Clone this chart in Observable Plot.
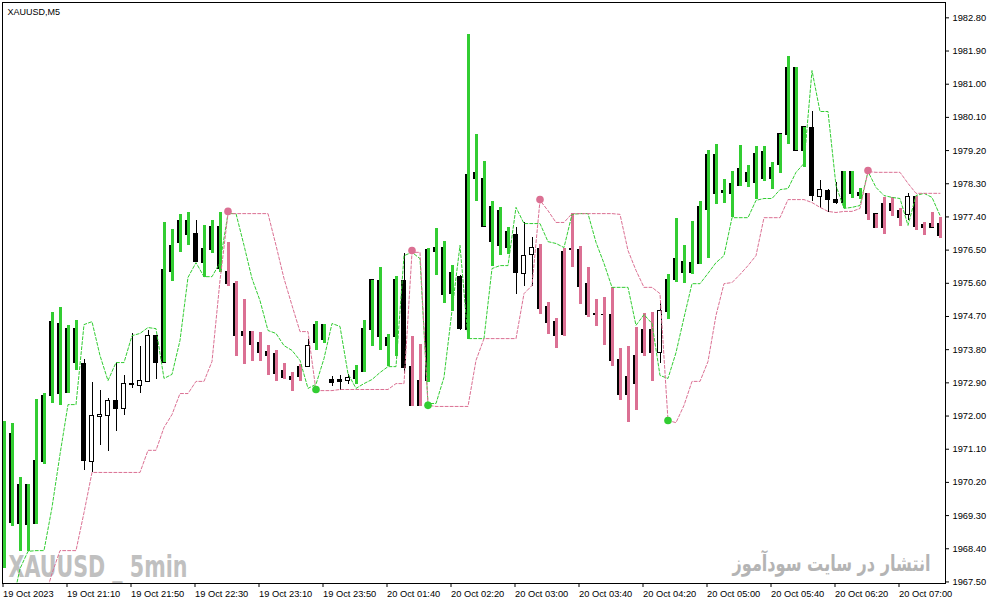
<!DOCTYPE html>
<html>
<head>
<meta charset="utf-8">
<script src="https://cdn.jsdelivr.net/npm/d3@7"></script>
<script src="https://cdn.jsdelivr.net/npm/@observablehq/plot@0.6"></script>
<style>
  html, body { margin: 0; padding: 0; background: #fff; }
  #chart svg { display: block; }
</style>
</head>
<body>
<div id="chart"></div>
<script>
// ---- Data (XAUUSD M5) ----
const openP = [
1967.87,1969.10,1969.08,1969.05,1969.08,1970.75,1972.53,1972.60,1972.62,1973.43,
1973.40,1970.75,1971.97,1972.01,1972.42,1972.20,1972.87,1972.81,1972.93,1974.18,
1973.45,1975.92,1976.68,1976.92,1976.95,1976.16,1976.49,1976.00,1975.92,1975.57,
1974.29,1974.29,1973.97,1973.75,1973.67,1973.21,1973.07,1973.34,1973.34,1973.97,
1974.05,1972.97,1972.97,1972.95,1973.00,1973.19,1974.32,1974.14,1973.89,1974.14,
1975.65,1973.32,1972.94,1972.96,1976.44,1975.27,1975.30,1975.78,1974.32,1978.44,
1977.14,1976.73,1976.60,1976.57,1976.92,1975.85,1976.36,1976.54,1974.97,1974.54,
1974.21,1976.52,1976.49,1975.57,1974.78,1974.75,1974.73,1973.53,1973.07,1972.88,
1974.32,1973.72,1973.70,1974.81,1975.68,1975.89,1975.87,1976.11,1977.60,1978.01,
1978.04,1978.01,1978.25,1978.36,1978.33,1978.44,1978.42,1978.82,1979.61,1981.45,
1979.20,1979.80,1977.95,1978.09,1977.87,1977.79,1978.01,1977.98,1978.01,1977.47,
1977.11,1977.74,1977.55,1977.44,1977.95,1977.17,1977.11,1977.22
];
const highP = [
1971.85,1971.80,1970.33,1970.14,1972.45,1972.60,1974.81,1974.94,1974.46,1974.59,
1973.53,1972.91,1972.69,1972.48,1973.45,1973.10,1974.23,1973.89,1974.32,1974.18,
1977.25,1977.06,1977.47,1977.52,1977.30,1977.17,1977.30,1977.52,1976.71,1975.65,
1975.16,1974.29,1974.27,1973.91,1973.78,1973.42,1973.18,1973.40,1974.08,1974.56,
1974.48,1973.07,1973.09,1973.13,1973.37,1974.59,1975.68,1976.03,1974.21,1975.78,
1976.41,1974.16,1973.94,1976.54,1977.09,1976.73,1976.08,1975.82,1982.35,1979.64,
1978.90,1977.82,1977.66,1977.11,1977.11,1977.25,1976.84,1976.65,1975.08,1974.65,
1976.54,1977.49,1976.60,1976.03,1975.16,1975.22,1975.49,1973.83,1973.89,1974.40,
1974.78,1974.81,1975.08,1975.84,1977.36,1976.63,1977.28,1977.82,1979.20,1979.36,
1978.42,1978.63,1979.34,1978.80,1979.31,1979.31,1978.88,1979.64,1981.75,1981.45,
1979.83,1980.26,1978.39,1978.14,1978.33,1978.63,1978.63,1978.17,1978.04,1977.47,
1977.93,1977.93,1977.63,1978.04,1977.95,1977.25,1977.52,1977.38
];
const lowP = [
1967.86,1969.01,1968.33,1968.33,1969.07,1970.68,1972.33,1972.29,1972.61,1973.24,
1970.52,1970.47,1971.20,1971.04,1971.59,1972.01,1972.75,1972.62,1972.93,1973.00,
1973.45,1975.65,1976.44,1976.63,1976.19,1975.76,1976.41,1975.89,1975.51,1973.61,
1973.40,1973.48,1973.48,1973.10,1972.94,1972.99,1972.67,1972.94,1973.34,1973.78,
1973.97,1972.80,1972.69,1972.86,1972.86,1973.19,1973.89,1973.78,1973.35,1973.61,
1973.15,1972.27,1972.27,1972.91,1975.81,1975.05,1974.84,1974.33,1974.08,1977.83,
1977.14,1976.06,1976.35,1976.38,1975.30,1975.51,1975.51,1974.75,1974.21,1973.83,
1974.16,1976.03,1975.03,1974.67,1974.43,1973.91,1973.34,1972.42,1971.82,1972.15,
1973.61,1972.94,1973.42,1974.62,1975.62,1975.59,1975.84,1976.11,1976.27,1977.74,
1977.76,1977.38,1978.23,1978.20,1977.87,1978.36,1978.14,1978.58,1979.36,1979.20,
1978.74,1977.82,1977.63,1977.52,1977.74,1977.63,1977.90,1977.87,1977.30,1977.09,
1976.92,1977.41,1977.14,1977.30,1977.03,1976.90,1977.11,1976.82
];
const closeP = [
1971.47,1971.52,1970.12,1970.12,1970.79,1972.53,1974.54,1974.49,1974.35,1974.35,
1970.77,1971.99,1972.04,1972.42,1972.19,1972.87,1972.84,1972.94,1974.18,1973.43,
1975.97,1976.60,1977.28,1977.30,1976.19,1976.54,1977.14,1977.14,1975.57,1974.18,
1974.18,1973.94,1973.70,1973.64,1973.15,1973.02,1972.99,1973.05,1973.89,1974.48,
1974.46,1972.90,1972.91,1973.02,1973.21,1974.37,1975.68,1975.65,1974.13,1975.68,
1973.30,1972.28,1972.28,1976.49,1976.57,1976.57,1975.87,1974.35,1978.55,1978.58,
1978.42,1977.66,1977.55,1976.98,1975.87,1976.33,1976.57,1974.89,1974.51,1974.18,
1976.44,1976.49,1975.49,1974.75,1974.75,1974.73,1973.48,1972.56,1972.58,1973.64,
1973.72,1974.32,1974.86,1975.68,1976.25,1976.19,1976.14,1977.66,1979.09,1979.09,
1978.09,1978.28,1978.69,1978.58,1979.12,1979.17,1978.74,1979.64,1981.43,1979.20,
1979.83,1977.98,1978.14,1977.87,1977.79,1978.63,1978.63,1978.04,1977.47,1977.11,
1977.74,1977.55,1977.38,1977.95,1977.14,1977.11,1977.22,1976.87
];
// 1 = up (green bar), -1 = down (pink bar), 0 = plain candle
const trend = [
1,1,1,1,1,1,1,1,1,1,
0,0,0,0,0,0,0,0,0,0,
1,1,1,1,0,1,1,1,-1,-1,
-1,-1,-1,-1,-1,-1,-1,-1,0,1,
1,0,0,0,1,1,1,1,1,1,
0,-1,-1,1,1,1,1,0,1,1,
1,1,1,1,0,0,0,-1,-1,-1,
-1,-1,-1,-1,-1,-1,-1,-1,-1,-1,
-1,-1,0,1,1,1,1,1,1,1,
1,1,1,1,1,1,1,1,1,1,
1,0,0,0,0,1,1,1,-1,-1,
-1,-1,-1,0,-1,-1,-1,-1
];
const greenLine = [
1965.91,1966.86,1967.86,1968.33,1968.35,1968.35,1969.52,1970.96,1972.31,1972.31,
1974.48,1974.56,1973.64,1972.96,1973.45,1973.45,1974.18,1974.24,1974.40,1974.37,
1973.02,1973.13,1974.05,1975.76,1976.16,1975.78,1975.78,1976.16,1977.49,1977.49,
1976.63,1975.73,1975.13,1974.32,1974.24,1973.91,1973.78,1973.51,1972.75,1972.86,
1973.56,1974.51,1974.43,1973.15,1972.75,1972.88,1972.99,1973.18,1973.34,1973.34,
1976.35,1976.44,1976.27,1972.34,1972.34,1973.05,1974.86,1976.63,1974.10,1974.10,
1974.10,1976.00,1976.08,1976.08,1977.66,1977.22,1977.22,1977.22,1976.73,1976.68,
1976.57,1977.47,1977.49,1977.49,1976.71,1976.14,1975.49,1975.49,1975.49,1974.46,
1974.75,1974.51,1973.10,1973.02,1973.72,1974.67,1975.59,1975.59,1975.87,1976.16,
1976.35,1977.38,1977.38,1977.38,1977.85,1977.90,1977.90,1978.14,1978.17,1978.61,
1978.85,1981.37,1980.26,1980.26,1978.25,1977.63,1977.66,1977.71,1978.63,1978.20,
1977.98,1977.93,1977.90,1977.17,1977.98,1978.04,1977.93,1977.44
];
const pinkLine = [
1965.37,1965.51,1965.64,1965.91,1966.32,1967.00,1967.73,1968.35,1968.35,1968.35,
1969.38,1970.47,1970.47,1970.47,1970.47,1970.47,1970.47,1970.47,1971.07,1971.07,
1971.69,1972.04,1972.61,1972.61,1972.94,1972.94,1973.48,1975.68,1977.49,1977.49,
1977.49,1977.49,1977.49,1977.49,1976.63,1975.73,1975.00,1974.29,1974.29,1972.69,
1972.69,1972.69,1972.72,1972.72,1972.72,1972.72,1972.72,1972.72,1972.72,1972.88,
1972.88,1976.44,1976.44,1972.29,1972.26,1972.26,1972.26,1972.26,1972.26,1973.51,
1974.10,1974.10,1974.10,1974.10,1974.10,1975.32,1975.54,1977.85,1977.57,1977.25,
1977.25,1977.49,1977.49,1977.49,1977.49,1977.49,1977.49,1977.47,1976.49,1975.95,
1975.49,1975.49,1975.32,1971.88,1971.82,1972.29,1972.94,1972.94,1973.48,1974.73,
1975.59,1975.62,1975.84,1976.08,1976.35,1977.38,1977.38,1977.38,1977.87,1977.87,
1977.87,1977.79,1977.66,1977.55,1977.52,1977.55,1977.55,1977.63,1978.63,1978.61,
1978.61,1978.61,1978.61,1978.31,1978.04,1978.04,1978.04,1978.04
];
// signal dots
const sigBar   = [28, 39, 51, 53, 67, 83, 108];
const sigPrice = [1977.55, 1972.72, 1976.49, 1972.29, 1977.87, 1971.88, 1978.66];
const sigType  = [-1, 1, -1, 1, -1, 1, -1];

// axis labels
const tickBars = [0, 8, 16, 24, 32, 40, 48, 56, 64, 72, 80, 88, 96, 104, 112];
const tickLabels = ["19 Oct 2023","19 Oct 21:10","19 Oct 21:50","19 Oct 22:30","19 Oct 23:10",
  "19 Oct 23:50","20 Oct 01:40","20 Oct 02:20","20 Oct 03:00","20 Oct 03:40","20 Oct 04:20",
  "20 Oct 05:00","20 Oct 05:40","20 Oct 06:20","20 Oct 07:00"];
const priceTicks = [1982.80,1981.90,1981.00,1980.10,1979.20,1978.30,1977.40,1976.50,1975.60,
  1974.70,1973.80,1972.90,1972.00,1971.10,1970.20,1969.30,1968.40,1967.50];

// ---- build table ----
const GREEN = "#32CD32", PINK = "#DB7093";
const WM_LATIN = "XAUUSD _ 5min";
const WM_FA = "انتشار در سایت سودآموز";
const bars = openP.map((o, i) => ({
  i, open: o, high: highP[i], low: lowP[i], close: closeP[i], trend: trend[i],
  up: greenLine[i], dn: pinkLine[i]
}));
const whiteBodies = bars.filter(d => d.trend === 0 && d.close >= d.open);
const upBars = bars.filter(d => d.trend === 1);
const dnBars = bars.filter(d => d.trend === -1);
const signals = sigBar.map((b, k) => ({i: b, price: sigPrice[k], type: sigType[k]}));

const chart = Plot.plot({
  width: 991,
  height: 605,
  marginLeft: 2,
  marginRight: 46,
  marginTop: 2,
  marginBottom: 22,
  style: {fontFamily: "'Liberation Sans', Arial, sans-serif", fontSize: "9.3px", color: "black", background: "white"},
  x: {type: "linear", domain: [-0.1875, 117.6875]},
  y: {domain: [1967.458, 1983.216]},
  marks: [
    Plot.axisX({ticks: tickBars, tickFormat: d => tickLabels[tickBars.indexOf(d)], tickSize: 4, tickPadding: 3,
      textAnchor: "start", dx: -1, label: null, fill: "black"}),
    Plot.axisY({anchor: "right", ticks: priceTicks, tickFormat: d => d.toFixed(2), tickSize: 3, tickPadding: 4,
      label: null, fill: "black"}),
    // watermarks (behind the price marks)
    Plot.text([WM_LATIN], {text: d => d, frameAnchor: "bottom-left", dx: 6, dy: -7, textAnchor: "start",
      lineAnchor: "bottom", fontSize: 30, fontWeight: 900, fill: "#c0c0c0",
      fontFamily: "'DejaVu Sans Condensed', 'DejaVu Sans', sans-serif"}),
    Plot.text([WM_FA], {text: d => d, frameAnchor: "bottom-right", dx: -15, dy: -13,
      textAnchor: "end", lineAnchor: "bottom", fontSize: 22, fontWeight: "bold", fill: "#b4b4b4",
      fontFamily: "'DejaVu Sans', sans-serif"}),
    // wicks
    Plot.ruleX(bars, {x: "i", y1: "low", y2: "high", stroke: "black", strokeWidth: 1, clip: true, shapeRendering: "crispEdges"}),
    // body outline (black)
    Plot.rect(bars, {x1: d => d.i - 0.3125, x2: d => d.i + 0.3125, y1: "open", y2: "close",
      insetTop: -0.5, insetBottom: -0.5, fill: "black", clip: true, shapeRendering: "crispEdges"}),
    // white interior for bullish plain candles
    Plot.rect(whiteBodies, {x1: d => d.i - 0.1875, x2: d => d.i + 0.1875, y1: "open", y2: "close",
      insetTop: 0.5, insetBottom: 0.5, fill: "white", clip: true, shapeRendering: "crispEdges"}),
    // coloured high-low bars
    Plot.ruleX(upBars, {x: "i", y1: "low", y2: "high", stroke: GREEN, strokeWidth: 3, clip: true, shapeRendering: "crispEdges"}),
    Plot.ruleX(dnBars, {x: "i", y1: "low", y2: "high", stroke: PINK, strokeWidth: 3, clip: true, shapeRendering: "crispEdges"}),
    // dashed channel lines
    Plot.line(bars, {x: "i", y: "up", stroke: GREEN, strokeWidth: 1, strokeDasharray: "3,2", clip: true}),
    Plot.line(bars, {x: "i", y: "dn", stroke: PINK, strokeWidth: 1, strokeDasharray: "3,2", clip: true}),
    // signal dots
    Plot.dot(signals.filter(d => d.type > 0), {x: "i", y: "price", r: 3.8, fill: GREEN, stroke: "none", clip: true}),
    Plot.dot(signals.filter(d => d.type < 0), {x: "i", y: "price", r: 3.8, fill: PINK, stroke: "none", clip: true}),
    // title
    Plot.text(["XAUUSD,M5"], {text: d => d, frameAnchor: "top-left", dx: 5, dy: 6, textAnchor: "start",
      fontSize: 9, fill: "black"}),
    Plot.frame({stroke: "black"})
  ]
});
document.getElementById("chart").appendChild(chart);

// fit watermark widths by a horizontal scale around the text anchor
function fitWidth(t, target) {
  const w = t.getComputedTextLength();
  if (!w) return;
  const sx = target / w;
  const prev = t.getAttribute("transform") || "";
  t.setAttribute("transform", (prev + " scale(" + sx + ",1)").trim());
}
chart.querySelectorAll("text").forEach(t => {
  if (t.textContent === WM_LATIN) fitWidth(t, 179);
  else if (t.textContent === WM_FA) fitWidth(t, 198);
});
</script>
</body>
</html>
